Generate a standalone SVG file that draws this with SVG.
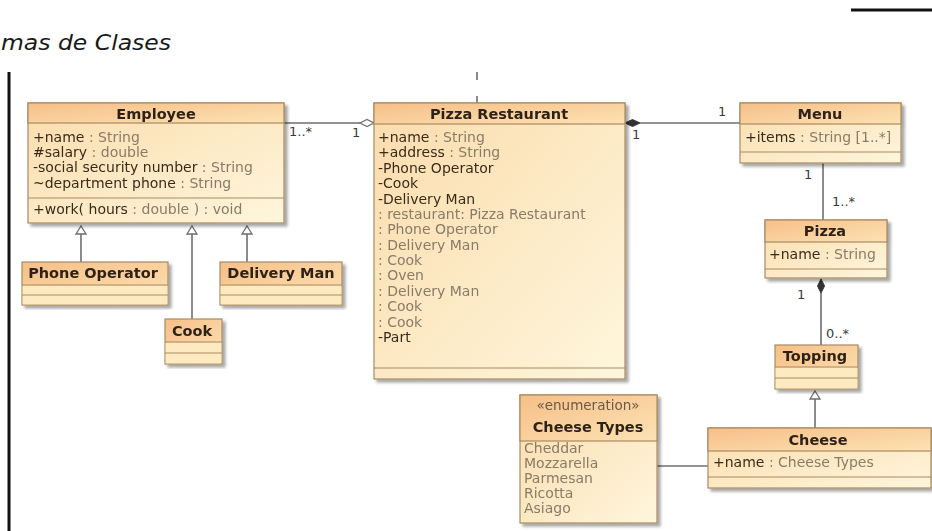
<svg xmlns="http://www.w3.org/2000/svg" width="932" height="531" viewBox="0 0 932 531">
  <defs>
    <linearGradient id="hdr" x1="0" y1="0" x2="1" y2="1">
      <stop offset="0" stop-color="#f6bf88"/>
      <stop offset="1" stop-color="#fde2b4"/>
    </linearGradient>
    <linearGradient id="bdy" x1="0" y1="0" x2="1" y2="1">
      <stop offset="0" stop-color="#fbdcac"/>
      <stop offset="1" stop-color="#fef6dc"/>
    </linearGradient>
    <filter id="shadow" x="-5%" y="-5%" width="115%" height="115%">
      <feGaussianBlur in="SourceAlpha" stdDeviation="1.5"/>
      <feOffset dx="2.5" dy="2.5" result="b"/>
      <feComponentTransfer><feFuncA type="linear" slope="0.35"/></feComponentTransfer>
      <feMerge><feMergeNode/><feMergeNode in="SourceGraphic"/></feMerge>
    </filter>
  </defs>
  <style>
    .box { filter: url(#shadow); }
    .hd { fill: url(#hdr); stroke: #a98a62; stroke-width: 1.2; }
    .bd { fill: url(#bdy); stroke: #a98a62; stroke-width: 1.2; }
    .empty { fill: #fdeac0; }
    .sep { stroke: #a98a62; stroke-width: 1.2; }
    .title { font-family: "DejaVu Sans", sans-serif; font-weight: bold; font-size: 14.5px; fill: #2e2418; text-anchor: middle; }
    .attr { font-family: "DejaVu Sans", sans-serif; font-size: 14px; fill: #3a2c1c; }
    .ty { fill: #8a7b68; }
    .st { font-family: "DejaVu Sans", sans-serif; font-size: 13.5px; fill: #6a5a48; text-anchor: middle; }
    .mult { font-family: "DejaVu Sans", sans-serif; font-size: 13px; fill: #3a3a3a; }
    .ln { stroke: #6e6e6e; stroke-width: 1.6; fill: none; }
    .tri { fill: #ffffff; stroke: #6e6e6e; stroke-width: 1.3; }
  </style>

  <rect x="0" y="0" width="932" height="531" fill="#ffffff"/>

  <!-- page decorations -->
  <text x="1" y="50" font-family="DejaVu Sans, sans-serif" font-style="italic" font-weight="200" font-size="22" fill="#1a1a1a" textLength="170" lengthAdjust="spacingAndGlyphs">mas de Clases</text>
  <line x1="851" y1="10" x2="932" y2="10" stroke="#111" stroke-width="3"/>
  <line x1="9" y1="72" x2="9" y2="531" stroke="#111" stroke-width="3"/>

  <!-- connectors -->
  <g id="connectors">
    <line class="ln" x1="477" y1="72" x2="477" y2="80" stroke="#9a9a9a"/>
    <line class="ln" x1="477" y1="96" x2="477" y2="103" stroke="#9a9a9a"/>
    <!-- Employee - Pizza Restaurant (aggregation) -->
    <line class="ln" x1="284" y1="123" x2="360" y2="123"/>
    <path d="M360,123 L367,119.5 L374,123 L367,126.5 Z" fill="#ffffff" stroke="#6e6e6e" stroke-width="1.3"/>
    <text class="mult" x="289" y="136">1..*</text>
    <text class="mult" x="352" y="137">1</text>
    <!-- Pizza Restaurant - Menu (composition) -->
    <line class="ln" x1="640" y1="123" x2="740" y2="123"/>
    <path d="M625,123 L632.5,119.5 L640,123 L632.5,126.5 Z" fill="#333" stroke="#333" stroke-width="1"/>
    <text class="mult" x="718" y="116">1</text>
    <text class="mult" x="632" y="139">1</text>
    <!-- Menu - Pizza -->
    <line class="ln" x1="823" y1="163" x2="823" y2="220"/>
    <text class="mult" x="804" y="179">1</text>
    <text class="mult" x="832" y="206">1..*</text>
    <!-- Pizza - Topping (composition) -->
    <path d="M821,279 L824.5,286 L821,293 L817.5,286 Z" fill="#333" stroke="#333" stroke-width="1"/>
    <line class="ln" x1="821" y1="293" x2="821" y2="345"/>
    <text class="mult" x="797" y="299">1</text>
    <text class="mult" x="826" y="338">0..*</text>
    <!-- generalizations -->
    <line class="ln" x1="81" y1="262" x2="81" y2="234"/>
    <path class="tri" d="M81,226 L86,234 L76,234 Z"/>
    <line class="ln" x1="192" y1="319" x2="192" y2="234"/>
    <path class="tri" d="M192,226 L197,234 L187,234 Z"/>
    <line class="ln" x1="247" y1="262" x2="247" y2="234"/>
    <path class="tri" d="M247,226 L252,234 L242,234 Z"/>
    <line class="ln" x1="815" y1="428" x2="815" y2="399"/>
    <path class="tri" d="M815,391 L820,399 L810,399 Z"/>
    <!-- Cheese Types - Cheese -->
    <line class="ln" x1="657" y1="466" x2="708" y2="466"/>
  </g>

  <!-- Employee -->
  <g id="employee" class="box">
    <rect class="bd" x="28" y="103" width="256" height="120"/>
    <rect class="hd" x="28" y="103" width="256" height="20"/>
    <line class="sep" x1="28" y1="198" x2="284" y2="198"/>
    <text class="title" x="156" y="119">Employee</text>
    <text class="attr" x="33" y="142">+name <tspan class="ty">: String</tspan></text>
    <text class="attr" x="33" y="157">#salary <tspan class="ty">: double</tspan></text>
    <text class="attr" x="33" y="172">-social security number <tspan class="ty">: String</tspan></text>
    <text class="attr" x="33" y="188">~department phone <tspan class="ty">: String</tspan></text>
    <text class="attr" x="33" y="214">+work( hours <tspan class="ty">: double ) : void</tspan></text>
  </g>

  <!-- Phone Operator -->
  <g id="phone-operator" class="box">
    <rect class="hd" x="22" y="262" width="146" height="43"/>
    <rect class="empty" x="22.6" y="285.6" width="144.8" height="18.8"/>
    <line class="sep" x1="22" y1="285" x2="168" y2="285"/>
    <line class="sep" x1="22" y1="295" x2="168" y2="295"/>
    <text class="title" x="93" y="278">Phone Operator</text>
  </g>

  <!-- Delivery Man -->
  <g id="delivery-man" class="box">
    <rect class="hd" x="220" y="262" width="122" height="43"/>
    <rect class="empty" x="220.6" y="285.6" width="120.8" height="18.8"/>
    <line class="sep" x1="220" y1="285" x2="342" y2="285"/>
    <line class="sep" x1="220" y1="295" x2="342" y2="295"/>
    <text class="title" x="281" y="278">Delivery Man</text>
  </g>

  <!-- Cook -->
  <g id="cook" class="box">
    <rect class="hd" x="165" y="319" width="57" height="45"/>
    <rect class="empty" x="165.6" y="342.6" width="55.8" height="20.8"/>
    <line class="sep" x1="165" y1="342" x2="222" y2="342"/>
    <line class="sep" x1="165" y1="353" x2="222" y2="353"/>
    <text class="title" x="192" y="336">Cook</text>
  </g>

  <!-- Pizza Restaurant -->
  <g id="pizza-restaurant" class="box">
    <rect class="bd" x="374" y="103" width="251" height="276"/>
    <rect class="hd" x="374" y="103" width="251" height="21"/>
    <line class="sep" x1="374" y1="368" x2="625" y2="368"/>
    <text class="title" x="499" y="119">Pizza Restaurant</text>
    <text class="attr" x="378" y="142">+name <tspan class="ty">: String</tspan></text>
    <text class="attr" x="378" y="157">+address <tspan class="ty">: String</tspan></text>
    <text class="attr" x="378" y="173">-Phone Operator</text>
    <text class="attr" x="378" y="188">-Cook</text>
    <text class="attr" x="378" y="204">-Delivery Man</text>
    <text class="attr ty" x="378" y="219">: restaurant: Pizza Restaurant</text>
    <text class="attr ty" x="378" y="234">: Phone Operator</text>
    <text class="attr ty" x="378" y="250">: Delivery Man</text>
    <text class="attr ty" x="378" y="265">: Cook</text>
    <text class="attr ty" x="378" y="280">: Oven</text>
    <text class="attr ty" x="378" y="296">: Delivery Man</text>
    <text class="attr ty" x="378" y="311">: Cook</text>
    <text class="attr ty" x="378" y="327">: Cook</text>
    <text class="attr" x="378" y="342">-Part</text>
  </g>

  <!-- Menu -->
  <g id="menu" class="box">
    <rect class="bd" x="740" y="103" width="161" height="60"/>
    <rect class="hd" x="740" y="103" width="161" height="21"/>
    <line class="sep" x1="740" y1="152" x2="901" y2="152"/>
    <text class="title" x="820" y="119">Menu</text>
    <text class="attr" x="745" y="142">+items <tspan class="ty">: String [1..*]</tspan></text>
  </g>

  <!-- Pizza -->
  <g id="pizza" class="box">
    <rect class="bd" x="765" y="220" width="122" height="58"/>
    <rect class="hd" x="765" y="220" width="122" height="22"/>
    <line class="sep" x1="765" y1="269" x2="887" y2="269"/>
    <text class="title" x="825" y="236">Pizza</text>
    <text class="attr" x="769" y="259">+name <tspan class="ty">: String</tspan></text>
  </g>

  <!-- Topping -->
  <g id="topping" class="box">
    <rect class="hd" x="775" y="345" width="83" height="44"/>
    <rect class="empty" x="775.6" y="367.6" width="81.8" height="20.8"/>
    <line class="sep" x1="775" y1="367" x2="858" y2="367"/>
    <line class="sep" x1="775" y1="378" x2="858" y2="378"/>
    <text class="title" x="815" y="361">Topping</text>
  </g>

  <!-- Cheese -->
  <g id="cheese" class="box">
    <rect class="bd" x="708" y="428" width="223" height="60"/>
    <rect class="hd" x="708" y="428" width="223" height="23"/>
    <line class="sep" x1="708" y1="477" x2="931" y2="477"/>
    <text class="title" x="818" y="445">Cheese</text>
    <text class="attr" x="713" y="467">+name <tspan class="ty">: Cheese Types</tspan></text>
  </g>

  <!-- Cheese Types enumeration -->
  <g id="cheese-types" class="box">
    <rect class="bd" x="520" y="395" width="137" height="128"/>
    <rect class="hd" x="520" y="395" width="137" height="46"/>
    <text class="st" x="588" y="410">«enumeration»</text>
    <text class="title" x="588" y="432">Cheese Types</text>
    <text class="attr ty" x="524" y="453">Cheddar</text>
    <text class="attr ty" x="524" y="468">Mozzarella</text>
    <text class="attr ty" x="524" y="483">Parmesan</text>
    <text class="attr ty" x="524" y="498">Ricotta</text>
    <text class="attr ty" x="524" y="513">Asiago</text>
  </g>
</svg>
